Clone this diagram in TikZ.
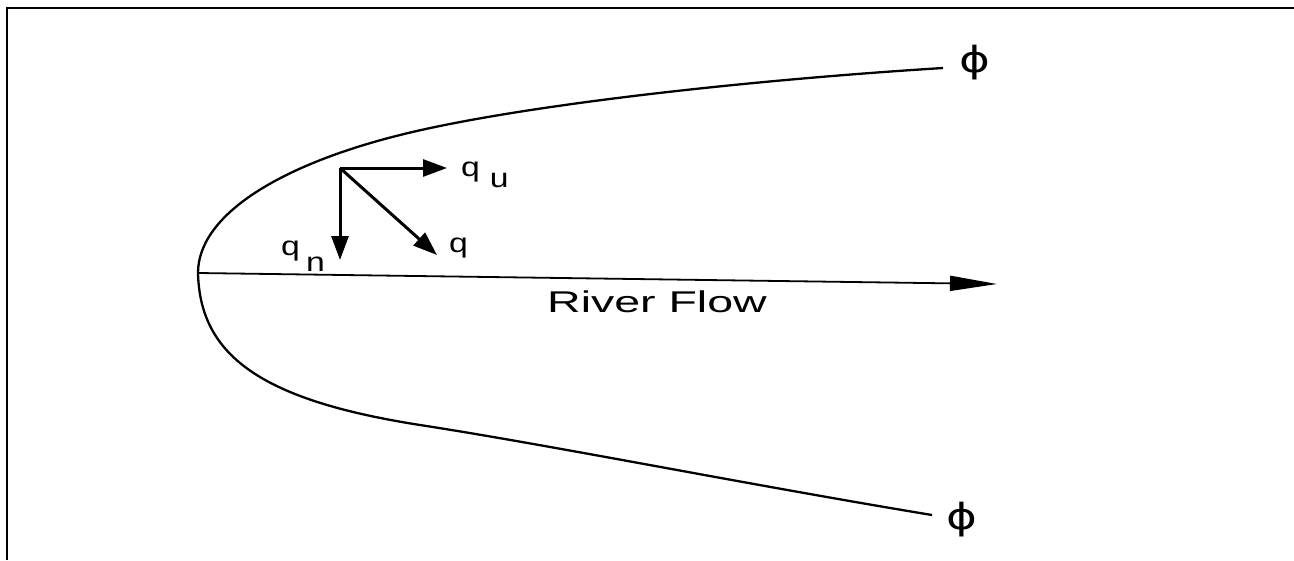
\documentclass[tikz,border=0pt]{standalone}
\usepackage{fontspec}
\setmainfont{Liberation Sans}
\newfontfamily\phifont{DejaVu Sans}
\usetikzlibrary{arrows.meta}
\tikzset{
  framebox/.style={line width=2pt, black},
  bank/.style={line width=2.3pt, black},
  flowline/.style={line width=1.8pt, black, -{Triangle[length=47pt,width=15pt]}},
  vect/.style={line width=3pt, black, -{Triangle[length=24pt,width=17pt]}},
  lbl/.style={inner sep=0pt, font=\fontsize{27}{30}\selectfont},
  bigl/.style={inner sep=0pt, font=\fontsize{30}{34}\selectfont},
  philbl/.style={inner sep=0pt, font=\phifont\fontsize{36}{40}\selectfont}
}
\begin{document}
\begin{tikzpicture}[x=1pt,y=-1pt]
\useasboundingbox (0,0) rectangle (1294,560);
% frame (cropped: only top and left edges)
\coordinate (fbl) at (6.5,560);
\coordinate (ftl) at (6.5,7.5);
\coordinate (ftr) at (1294,7.5);
\draw[framebox] (fbl) -- (ftl) -- (ftr);
% bank curve
\coordinate (vertex) at (198,273);
\coordinate (upmid) at (400,135);
\coordinate (upend) at (943,68);
\coordinate (lowmid) at (420,425);
\coordinate (lowend) at (932,515);
\draw[bank] (upend) .. controls (750,80) and (520,105) .. (upmid)
  .. controls (280,165) and (198,215) .. (vertex)
  .. controls (200,355) and (260,400) .. (lowmid)
  .. controls (550,445) and (750,485) .. (lowend);
% river flow
\coordinate (flowend) at (997,284);
\draw[flowline] (vertex) -- (flowend);
\node[bigl] (rf) at (657,302) {\scalebox{1.55}[1]{River Flow}};
% vectors
\coordinate (O) at (340,168);
\coordinate (qutip) at (447,168);
\coordinate (qntip) at (340,260);
\coordinate (qtip) at (437,255);
\draw[vect] (O) -- (qutip);
\draw[vect] (O) -- (qntip);
\draw[vect] (O) -- (qtip);
\node[lbl, anchor=base west] (qu) at (461,176) {\scalebox{1.25}[1]{q\hspace{8pt}\raisebox{-11pt}{u}}};
\node[lbl, anchor=base west] (qn) at (281,255) {\scalebox{1.25}[1]{q\hspace{5pt}\raisebox{-16pt}{n}}};
\node[lbl, anchor=base west] (q) at (449,252) {\scalebox{1.25}[1]{q}};
% phi labels
\node[philbl] (phiU) at (975,63) {\scalebox{1.3}[1]{\symbol{"03D5}}};
\node[philbl] (phiL) at (962,520) {\scalebox{1.3}[1]{\symbol{"03D5}}};
\end{tikzpicture}
\end{document}
